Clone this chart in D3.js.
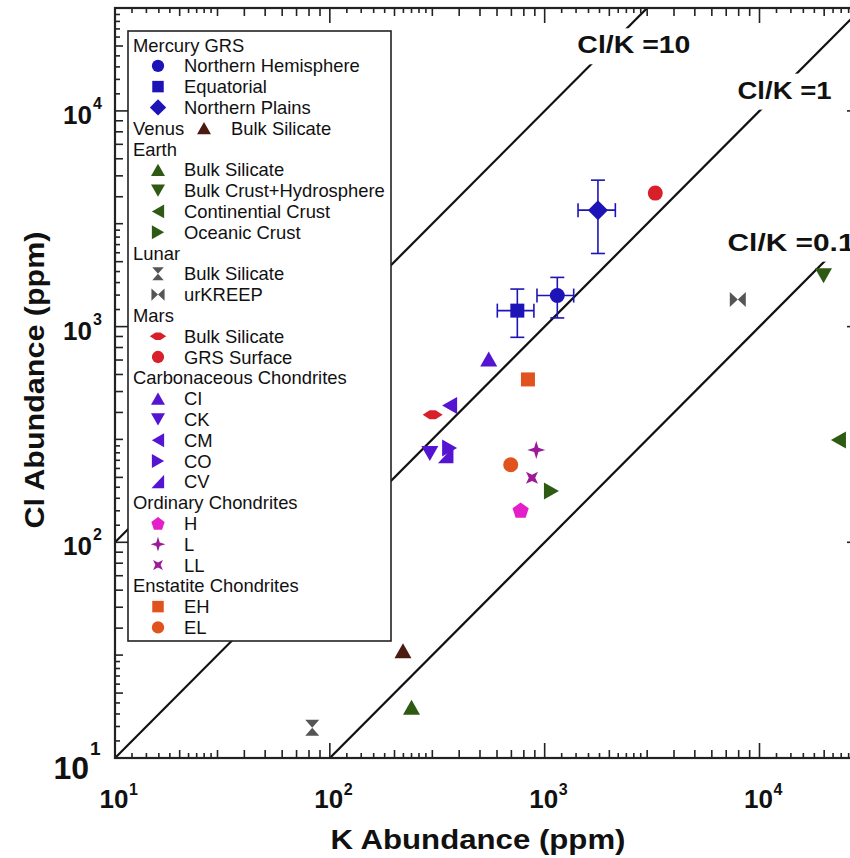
<!DOCTYPE html>
<html>
<head>
<meta charset="utf-8">
<script src="https://cdn.jsdelivr.net/npm/d3@7"></script>
<style>
  html, body { margin: 0; padding: 0; background: #fff; }
  svg { display: block; font-family: "Liberation Sans", Arial, sans-serif; }
</style>
</head>
<body>
<div id="chart"></div>
<script>
// ----------------------------------------
// Data
// ----------------------------------------
const groups = ["Mercury GRS", "Venus", "Earth", "Lunar", "Mars",
  "Carbonaceous Chondrites", "Ordinary Chondrites", "Enstatite Chondrites"];

const seriesGroup = [0, 0, 0, 1, 2, 2, 2, 2, 3, 3, 4, 4, 5, 5, 5, 5, 5, 6, 6, 6, 7, 7];
const seriesNames = ["Northern Hemisphere", "Equatorial", "Northern Plains",
  "Bulk Silicate",
  "Bulk Silicate", "Bulk Crust+Hydrosphere", "Continential Crust", "Oceanic Crust",
  "Bulk Silicate", "urKREEP",
  "Bulk Silicate", "GRS Surface",
  "CI", "CK", "CM", "CO", "CV",
  "H", "L", "LL",
  "EH", "EL"];

// K (ppm) and Cl (ppm)
const kValues  = [1145, 746, 1770, 219, 240, 19860, 23300, 1075, 82.8, 7925, 301, 3273,
  549, 292, 361, 361, 347, 773, 914, 873, 836, 695];
const clValues = [1393, 1186, 3467, 31.4, 17.2, 1722, 298, 173, 13.8, 1334, 390, 4160,
  708, 258, 431, 274, 253, 141, 268, 199, 569, 229];

// error bars (Mercury GRS only)
const kErrLow   = [921, 602, 1430];
const kErrHigh  = [1365, 891, 2133];
const clErrLow  = [1097, 892, 2183];
const clErrHigh = [1691, 1493, 4775];

const ratioLines  = [10, 1, 0.1];
const ratioLabels = ["Cl/K =10", "Cl/K =1", "Cl/K =0.1"];
// label anchors (K, Cl) at the left end / baseline of each label
const ratioLabelK  = [1420, 7900, 7100];
const ratioLabelCl = [18500, 11400, 2250];

const tickExponents = [1, 2, 3, 4];

// ----------------------------------------
// Styles
// ----------------------------------------
const seriesShape = ["circle", "square", "diamond", "triUp",
  "triUp", "triDown", "triLeft", "triRight",
  "hourglass", "bowtie",
  "flatDiamond", "circle",
  "triUp", "triDown", "triLeft", "triRight", "triCorner",
  "pentagon", "star4", "concave",
  "square", "circle"];
const seriesColor = ["#1d14b8", "#1d14b8", "#1d14b8", "#4b1a10",
  "#2e5a14", "#2e5a14", "#2e5a14", "#2e5a14",
  "#555555", "#555555",
  "#d8202a", "#d8202a",
  "#5414d2", "#5414d2", "#5414d2", "#5414d2", "#5414d2",
  "#e41ec8", "#9c1a98", "#9c1a98",
  "#e0521e", "#e0521e"];
const ratioLabelWidth = [113, 94, 127];

const width = 850, height = 858;
const plot = {left: 115, right: 862, top: 8, bottom: 758};

const svg = d3.select('#chart').append('svg')
  .attr('width', width).attr('height', height)
  .attr('viewBox', `0 0 ${width} ${height}`);

const x = d3.scaleLog().domain([10, 3e4]).range([plot.left, plot.right]);
const y = d3.scaleLog().domain([10, 3e4]).range([plot.bottom, plot.top]);

svg.append('defs').append('clipPath').attr('id', 'plotClip')
  .append('rect')
  .attr('x', plot.left).attr('y', plot.top)
  .attr('width', plot.right - plot.left).attr('height', plot.bottom - plot.top);

// marker shapes, s = scale
function shapePath(shape, s) {
  const poly = pts => 'M' + pts.map(p => [p[0] * s, p[1] * s].join(',')).join('L') + 'Z';
  switch (shape) {
    case 'circle': {
      const r = 7.5 * s;
      return `M${-r},0A${r},${r} 0 1,0 ${r},0A${r},${r} 0 1,0 ${-r},0Z`;
    }
    case 'square': return poly([[-7, -7], [7, -7], [7, 7], [-7, 7]]);
    case 'diamond': return poly([[0, -10], [10, 0], [0, 10], [-10, 0]]);
    case 'flatDiamond': return poly([[-10, 0], [-3, -4.5], [3, -4.5], [10, 0], [3, 4.5], [-3, 4.5]]);
    case 'triUp': return poly([[0, -7.5], [8.5, 7.5], [-8.5, 7.5]]);
    case 'triDown': return poly([[0, 7.5], [8.5, -7.5], [-8.5, -7.5]]);
    case 'triLeft': return poly([[-7.5, 0], [7.5, -8.5], [7.5, 8.5]]);
    case 'triRight': return poly([[7.5, 0], [-7.5, -8.5], [-7.5, 8.5]]);
    case 'triCorner': return poly([[7.5, -8.5], [7.5, 8], [-8, 8]]);
    case 'hourglass': return poly([[-7, -8], [7, -8], [0, 0]]) + poly([[-7, 8], [7, 8], [0, 0]]);
    case 'bowtie': return poly([[-8, -7.5], [-8, 7.5], [0, 0]]) + poly([[8, -7.5], [8, 7.5], [0, 0]]);
    case 'pentagon':
      return poly(d3.range(5).map(i => {
        const a = -Math.PI / 2 + i * 2 * Math.PI / 5;
        return [8.5 * Math.cos(a), 8.5 * Math.sin(a) + 0.8];
      }));
    case 'star4':
      return poly(d3.range(8).map(i => {
        const a = -Math.PI / 2 + i * Math.PI / 4;
        const r = i % 2 ? 3 : 9;
        return [r * Math.cos(a), r * Math.sin(a)];
      }));
    case 'concave':
      return poly(d3.range(8).map(i => {
        const a = -Math.PI / 4 + i * Math.PI / 4;
        const r = i % 2 ? 3.2 : 8.5;
        return [r * Math.cos(a), r * Math.sin(a)];
      }));
  }
}

// ----------------------------------------
// Ratio lines + labels
// ----------------------------------------
const plotArea = svg.append('g').attr('clip-path', 'url(#plotClip)');

ratioLines.forEach(r => {
  plotArea.append('path')
    .attr('d', d3.line()([[x(1), y(r * 1)], [x(1e5), y(r * 1e5)]]))
    .attr('stroke', '#111')
    .attr('stroke-width', 2.2)
    .attr('fill', 'none');
});

ratioLabels.forEach((t, i) => {
  const gl = plotArea.append('g');
  const bg = gl.append('rect').attr('fill', '#fff');
  const txt = gl.append('text')
    .attr('x', x(ratioLabelK[i]))
    .attr('y', y(ratioLabelCl[i]))
    .attr('font-size', 24)
    .attr('font-weight', 'bold')
    .attr('fill', '#111')
    .attr('textLength', ratioLabelWidth[i])
    .attr('lengthAdjust', 'spacingAndGlyphs')
    .text(t);
  const bb = txt.node().getBBox();
  bg.attr('x', bb.x - 6).attr('y', bb.y - 3)
    .attr('width', bb.width + 12).attr('height', bb.height + 9);
});

// ----------------------------------------
// Axes (log ticks drawn inward on all four sides)
// ----------------------------------------
const smallMant = [1.2, 1.4, 1.6, 1.8, 2.2, 2.4, 2.6, 2.8];
const minorMant = [2, 3, 4, 5, 6, 7, 8, 9];
const ticks = [];
[0, 1, 2, 3, 4].forEach(e => {
  const base = Math.pow(10, e);
  ticks.push({v: base, len: 15});
  smallMant.forEach(m => ticks.push({v: m * base, len: 5}));
  minorMant.forEach(m => ticks.push({v: m * base, len: 8}));
});
const xTicks = ticks.filter(t => t.v >= 10 && t.v <= 3e4);
const yTicks = xTicks;

const axisG = svg.append('g').attr('stroke', '#222').attr('stroke-width', 1.6);
xTicks.forEach(t => {
  const px = x(t.v);
  axisG.append('line').attr('x1', px).attr('x2', px)
    .attr('y1', plot.bottom).attr('y2', plot.bottom - t.len);
  axisG.append('line').attr('x1', px).attr('x2', px)
    .attr('y1', plot.top).attr('y2', plot.top + t.len);
});
yTicks.forEach(t => {
  const py = y(t.v);
  axisG.append('line').attr('y1', py).attr('y2', py)
    .attr('x1', plot.left).attr('x2', plot.left + t.len);
  axisG.append('line').attr('y1', py).attr('y2', py)
    .attr('x1', plot.right).attr('x2', plot.right - t.len);
});
svg.append('rect')
  .attr('x', plot.left).attr('y', plot.top)
  .attr('width', plot.right - plot.left).attr('height', plot.bottom - plot.top)
  .attr('fill', 'none').attr('stroke', '#222').attr('stroke-width', 2.2);

// tick labels
tickExponents.forEach(e => {
  const v = Math.pow(10, e);
  // x axis
  const gx = svg.append('g').attr('font-weight', 'bold').attr('fill', '#111');
  gx.append('text').attr('x', x(v) - 1).attr('y', 808)
    .attr('text-anchor', 'middle').attr('font-size', 26).text('10');
  gx.append('text').attr('x', x(v) + 14).attr('y', 795)
    .attr('font-size', 16).text(e);
  // y axis
  const big = e === 1;
  const gy = svg.append('g').attr('font-weight', 'bold').attr('fill', '#111');
  gy.append('text').attr('x', big ? 89 : 92).attr('y', y(v) + (big ? 21 : 13))
    .attr('text-anchor', 'end').attr('font-size', big ? 32 : 26).text('10');
  gy.append('text').attr('x', big ? 90 : 93).attr('y', y(v) + (big ? -3 : -2))
    .attr('font-size', big ? 19 : 16).text(e);
});

// axis titles
svg.append('text')
  .attr('x', 478).attr('y', 849)
  .attr('text-anchor', 'middle')
  .attr('font-size', 28).attr('font-weight', 'bold').attr('fill', '#111')
  .attr('textLength', 295).attr('lengthAdjust', 'spacingAndGlyphs')
  .text('K Abundance (ppm)');

svg.append('text')
  .attr('transform', 'translate(44,380) rotate(-90)')
  .attr('text-anchor', 'middle')
  .attr('font-size', 28).attr('font-weight', 'bold').attr('fill', '#111')
  .attr('textLength', 297).attr('lengthAdjust', 'spacingAndGlyphs')
  .text('Cl Abundance (ppm)');

// ----------------------------------------
// Legend
// ----------------------------------------
const legend = svg.append('g');
legend.append('rect')
  .attr('x', 128).attr('y', 31).attr('width', 263).attr('height', 610)
  .attr('fill', '#fff').attr('stroke', '#222').attr('stroke-width', 1.6);

const rowH = 20.8;
const legendFont = 18.4;
let row = 0;
groups.forEach((g, gi) => {
  const members = d3.range(seriesNames.length).filter(i => seriesGroup[i] === gi);
  const cy = 45 + row * rowH;
  legend.append('text').attr('x', 133).attr('y', cy + 6.5)
    .attr('font-size', legendFont).attr('fill', '#111').text(g);
  if (members.length === 1) {
    const i = members[0];
    legend.append('path').attr('d', shapePath(seriesShape[i], 0.82))
      .attr('transform', `translate(204,${cy})`).attr('fill', seriesColor[i]);
    legend.append('text').attr('x', 231).attr('y', cy + 6.5)
      .attr('font-size', legendFont).attr('fill', '#111').text(seriesNames[i]);
    row += 1;
    return;
  }
  row += 1;
  members.forEach(i => {
    const yy = 45 + row * rowH;
    legend.append('path').attr('d', shapePath(seriesShape[i], 0.82))
      .attr('transform', `translate(158,${yy})`).attr('fill', seriesColor[i]);
    legend.append('text').attr('x', 184).attr('y', yy + 6.5)
      .attr('font-size', legendFont).attr('fill', '#111').text(seriesNames[i]);
    row += 1;
  });
});

// ----------------------------------------
// Points + error bars
// ----------------------------------------
const pts = svg.append('g').attr('clip-path', 'url(#plotClip)');
const cap = 7;
kErrLow.forEach((_, i) => {
  const eb = pts.append('g').attr('stroke', seriesColor[i]).attr('stroke-width', 1.6);
  const cx = x(kValues[i]), cy = y(clValues[i]);
  const x0 = x(kErrLow[i]), x1 = x(kErrHigh[i]);
  const y0 = y(clErrLow[i]), y1 = y(clErrHigh[i]);
  eb.append('line').attr('x1', x0).attr('x2', x1).attr('y1', cy).attr('y2', cy);
  eb.append('line').attr('x1', x0).attr('x2', x0).attr('y1', cy - cap).attr('y2', cy + cap);
  eb.append('line').attr('x1', x1).attr('x2', x1).attr('y1', cy - cap).attr('y2', cy + cap);
  eb.append('line').attr('x1', cx).attr('x2', cx).attr('y1', y0).attr('y2', y1);
  eb.append('line').attr('x1', cx - cap).attr('x2', cx + cap).attr('y1', y0).attr('y2', y0);
  eb.append('line').attr('x1', cx - cap).attr('x2', cx + cap).attr('y1', y1).attr('y2', y1);
});

pts.selectAll('path.pt')
  .data(d3.range(seriesNames.length))
  .enter().append('path')
  .attr('class', 'pt')
  .attr('d', i => shapePath(seriesShape[i], 1))
  .attr('transform', i => `translate(${x(kValues[i])},${y(clValues[i])})`)
  .attr('fill', i => seriesColor[i]);
</script>
</body>
</html>
